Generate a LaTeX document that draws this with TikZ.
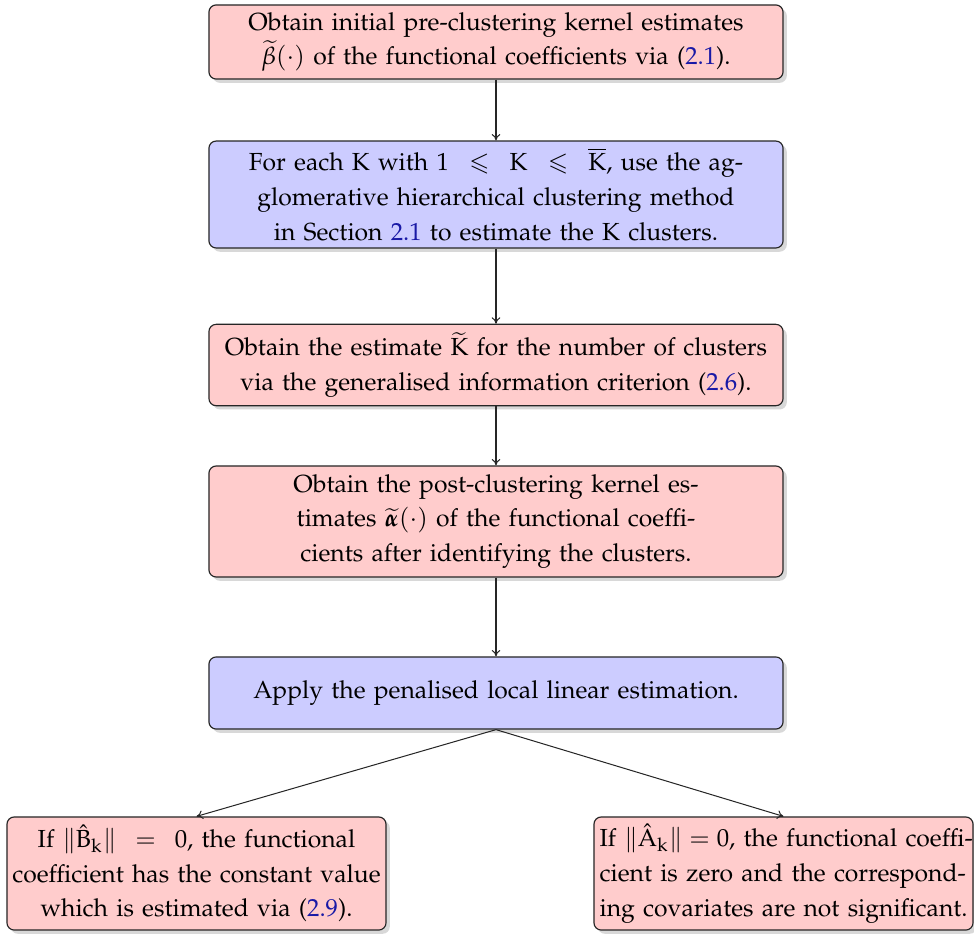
\documentclass[tikz,border=0pt]{standalone}
\usepackage[T1]{fontenc}
\usepackage{amsmath,amssymb}
\usepackage{mathpazo}
\usetikzlibrary{shadows,arrows.meta}
\definecolor{linkblue}{rgb}{0.1,0.1,0.65}
\definecolor{pinkfill}{RGB}{255,204,204}
\definecolor{bluefill}{RGB}{204,204,255}
\newcommand{\lnk}[1]{\textcolor{linkblue}{#1}}
\newcommand{\jline}[1]{\makebox[126.5pt][s]{#1}}
\newcommand{\KK}{\mathrm{K}}
\tikzset{
  box/.style={draw=black!85, line width=0.4pt, rounded corners=2.5pt, align=center, inner sep=0pt,
    font=\fontsize{8.5}{12}\selectfont,
    drop shadow={shadow xshift=1.3pt, shadow yshift=-1.3pt, fill=black!30}},
  pinkbox/.style={box, fill=pinkfill},
  bluebox/.style={box, fill=bluefill},
  mainw/.style={minimum width=197.5pt, text width=196pt},
  sidew/.style={minimum width=130.4pt, text width=128pt},
  conn/.style={-{To[length=2.2pt,width=3pt]}, draw=black!85, line width=0.35pt}
}
\begin{document}
\begin{tikzpicture}[x=0.344pt,y=-0.344pt]
\useasboundingbox (0,0) rectangle (974,937);
\node[pinkbox, mainw, minimum height=25.5pt] (n1) at (496,42)
  {Obtain initial pre-clustering kernel estimates\\
   $\widetilde{\beta}(\cdot)$ of the functional coefficients via (\lnk{2.1}).};
\node[bluebox, mainw, minimum height=36.8pt] (n2) at (496,194.5)
  {For each $\KK$ with $1\ \leqslant\ \KK\ \leqslant\ \overline{\KK}$, use the ag-\\
   glomerative hierarchical clustering method\\
   in Section \lnk{2.1} to estimate the $\KK$ clusters.};
\node[pinkbox, mainw, minimum height=28pt] (n3) at (496,365)
  {Obtain the estimate $\widetilde{\KK}$ for the number of clusters\\
   via the generalised information criterion (\lnk{2.6}).};
\node[pinkbox, mainw, minimum height=38.2pt] (n4) at (496,521.5)
  {Obtain the post-clustering kernel es-\\
   timates $\widetilde{\boldsymbol{\alpha}}(\cdot)$ of the functional coeffi-\\
   cients after identifying the clusters.};
\node[bluebox, mainw, minimum height=24.8pt] (n5) at (496,693)
  {Apply the penalised local linear estimation.};
\node[pinkbox, sidew, minimum height=38.9pt] (n6) at (196.5,873.5)
  {If $\|\hat{\mathrm{B}}_{\mathrm{k}}\|\ =\ 0$, the functional\\
   coefficient has the constant value\\
   which is estimated via (\lnk{2.9}).};
\node[pinkbox, minimum width=130.4pt, text width=126.5pt, minimum height=38.9pt, align=left] (n7) at (783.5,873.5)
  {\jline{If $\|\hat{\mathrm{A}}_{\mathrm{k}}\|=0$, the functional coeffi-}\\
   \jline{cient is zero and the correspond-}\\
   \jline{ing covariates are not significant.}};
\draw[conn] (n1.south) -- (n2.north);
\draw[conn] (n2.south) -- (n3.north);
\draw[conn] (n3.south) -- (n4.north);
\draw[conn] (n4.south) -- (n5.north);
\draw[conn] (n5.south) -- (n6.north);
\draw[conn] (n5.south) -- (n7.north);
\end{tikzpicture}
\end{document}
